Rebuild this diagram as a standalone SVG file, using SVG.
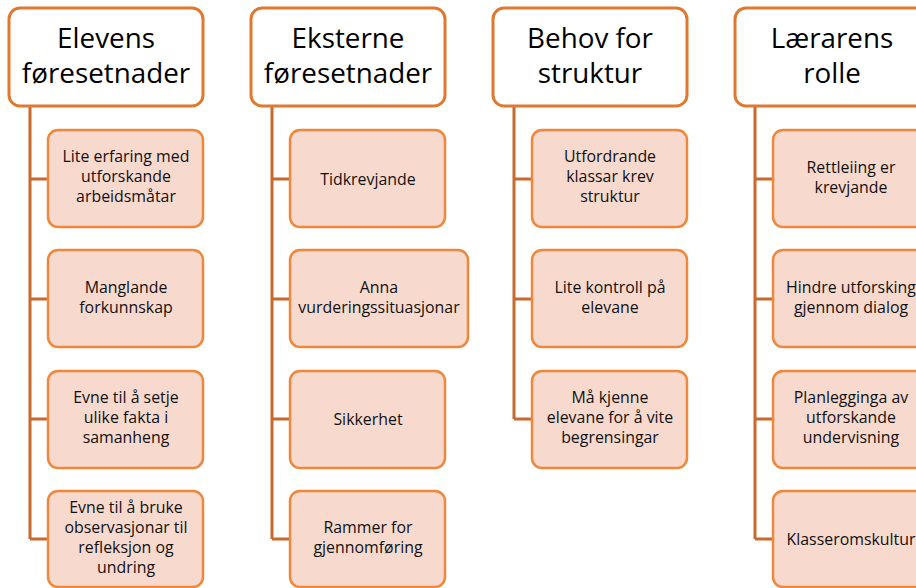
<svg xmlns="http://www.w3.org/2000/svg" width="916" height="588" viewBox="0 0 916 588">
  <style>
    .head rect { fill: #ffffff; stroke: #E0782F; stroke-width: 3; }
    .head text { font-family: "Open Sans", "Liberation Sans", sans-serif; font-size: 27.8px; fill: #000; text-anchor: middle; }
    .item rect { fill: #F8D9CE; stroke: #EF883D; stroke-width: 2.5; }
    .item text { font-family: "Open Sans", "Liberation Sans", sans-serif; font-size: 15.9px; fill: #111; text-anchor: middle; }
    .link { fill: none; stroke: #C8692E; stroke-width: 3; }
  </style>

  <!-- connectors: trunk from each header down to its last item, with branches -->
  <g id="connectors">
    <path class="link" d="M30 106 V539 M30 179 H48 M30 299 H48 M30 419 H48 M30 539 H48"/>
    <path class="link" d="M272 106 V539 M272 179 H290 M272 299 H290 M272 419 H290 M272 539 H290"/>
    <path class="link" d="M514 106 V419 M514 179 H532 M514 299 H532 M514 419 H532"/>
    <path class="link" d="M755 106 V539 M755 179 H773 M755 299 H773 M755 419 H773 M755 539 H773"/>
  </g>

  <!-- column 1 -->
  <g id="h1" class="head">
    <rect x="9" y="8" width="194" height="98" rx="11"/>
    <text x="106" y="48">Elevens</text>
    <text x="106" y="83">føresetnader</text>
  </g>
  <g id="c1n1" class="item">
    <rect x="48" y="130" width="155" height="97" rx="10"/>
    <text x="126" y="162">Lite erfaring med</text>
    <text x="126" y="182">utforskande</text>
    <text x="126" y="202">arbeidsmåtar</text>
  </g>
  <g id="c1n2" class="item">
    <rect x="48" y="250" width="155" height="97" rx="10"/>
    <text x="126" y="293">Manglande</text>
    <text x="126" y="313">forkunnskap</text>
  </g>
  <g id="c1n3" class="item">
    <rect x="48" y="371" width="155" height="97" rx="10"/>
    <text x="126" y="403">Evne til å setje</text>
    <text x="126" y="423">ulike fakta i</text>
    <text x="126" y="443">samanheng</text>
  </g>
  <g id="c1n4" class="item">
    <rect x="48" y="491" width="155" height="96" rx="10"/>
    <text x="126" y="513">Evne til å bruke</text>
    <text x="126" y="533">observasjonar til</text>
    <text x="126" y="553">refleksjon og</text>
    <text x="126" y="573">undring</text>
  </g>

  <!-- column 2 -->
  <g id="h2" class="head">
    <rect x="251" y="8" width="194" height="98" rx="11"/>
    <text x="348" y="48">Eksterne</text>
    <text x="348" y="83">føresetnader</text>
  </g>
  <g id="c2n1" class="item">
    <rect x="290" y="130" width="155" height="97" rx="10"/>
    <text x="368" y="185">Tidkrevjande</text>
  </g>
  <g id="c2n2" class="item">
    <rect x="290" y="250" width="178" height="97" rx="10"/>
    <text x="379" y="293">Anna</text>
    <text x="379" y="313">vurderingssituasjonar</text>
  </g>
  <g id="c2n3" class="item">
    <rect x="290" y="371" width="155" height="97" rx="10"/>
    <text x="368" y="425">Sikkerhet</text>
  </g>
  <g id="c2n4" class="item">
    <rect x="290" y="491" width="155" height="96" rx="10"/>
    <text x="368" y="533">Rammer for</text>
    <text x="368" y="553">gjennomføring</text>
  </g>

  <!-- column 3 -->
  <g id="h3" class="head">
    <rect x="493" y="8" width="194" height="98" rx="11"/>
    <text x="590" y="48">Behov for</text>
    <text x="590" y="83">struktur</text>
  </g>
  <g id="c3n1" class="item">
    <rect x="532" y="130" width="155" height="97" rx="10"/>
    <text x="610" y="162">Utfordrande</text>
    <text x="610" y="182">klassar krev</text>
    <text x="610" y="202">struktur</text>
  </g>
  <g id="c3n2" class="item">
    <rect x="532" y="250" width="155" height="97" rx="10"/>
    <text x="610" y="293">Lite kontroll på</text>
    <text x="610" y="313">elevane</text>
  </g>
  <g id="c3n3" class="item">
    <rect x="532" y="371" width="155" height="97" rx="10"/>
    <text x="610" y="403">Må kjenne</text>
    <text x="610" y="423">elevane for å vite</text>
    <text x="610" y="443">begrensingar</text>
  </g>

  <!-- column 4 -->
  <g id="h4" class="head">
    <rect x="735" y="8" width="194" height="98" rx="11"/>
    <text x="832" y="48">Lærarens</text>
    <text x="832" y="83">rolle</text>
  </g>
  <g id="c4n1" class="item">
    <rect x="773" y="130" width="156" height="97" rx="10"/>
    <text x="851" y="173">Rettleiing er</text>
    <text x="851" y="193">krevjande</text>
  </g>
  <g id="c4n2" class="item">
    <rect x="773" y="250" width="156" height="97" rx="10"/>
    <text x="851" y="293">Hindre utforsking</text>
    <text x="851" y="313">gjennom dialog</text>
  </g>
  <g id="c4n3" class="item">
    <rect x="773" y="371" width="156" height="97" rx="10"/>
    <text x="851" y="403">Planlegginga av</text>
    <text x="851" y="423">utforskande</text>
    <text x="851" y="443">undervisning</text>
  </g>
  <g id="c4n4" class="item">
    <rect x="773" y="491" width="156" height="96" rx="10"/>
    <text x="851" y="545">Klasseromskultur</text>
  </g>
</svg>
